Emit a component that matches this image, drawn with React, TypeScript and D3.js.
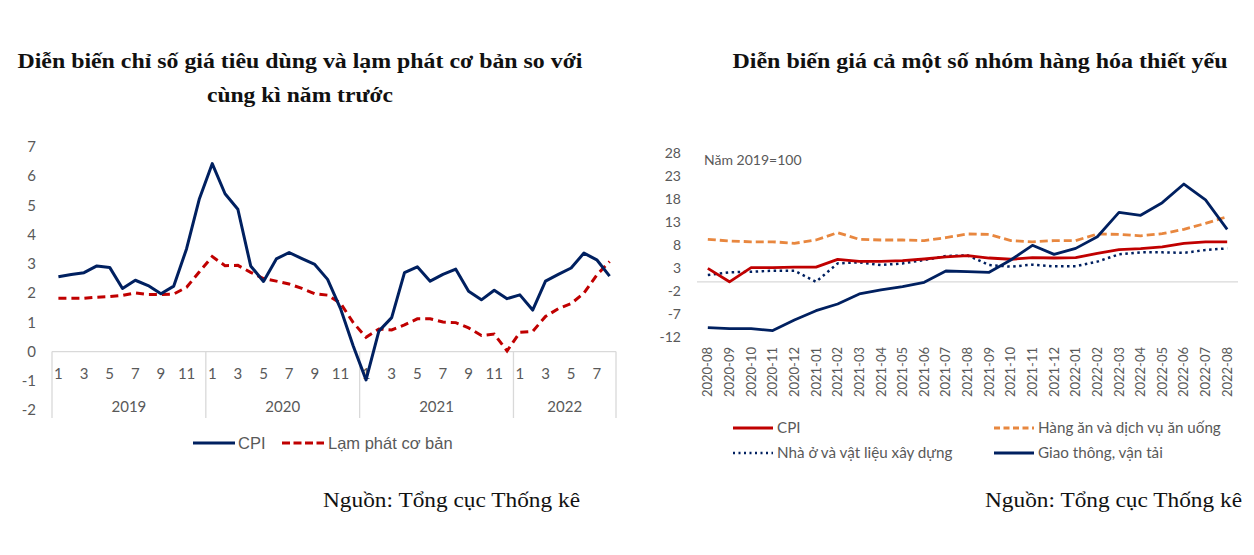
import React from "react";
import * as d3 from "d3";

// ---------- Left chart data ----------
const leftYears = ["2019", "2020", "2021", "2022"];
const leftMonthsPerYear = [12, 12, 12, 8];
const cpiYoY = [
  2.56, 2.64, 2.7, 2.93, 2.88, 2.16, 2.44, 2.26, 1.98, 2.24, 3.52, 5.23,
  6.43, 5.4, 4.87, 2.93, 2.4, 3.17, 3.39, 3.18, 2.98, 2.47, 1.48, 0.19,
  -0.97, 0.7, 1.16, 2.7, 2.9, 2.41, 2.64, 2.82, 2.06, 1.77, 2.1, 1.81,
  1.94, 1.42, 2.41, 2.64, 2.86, 3.37, 3.14, 2.58,
];
const coreInflation = [
  1.82, 1.82, 1.82, 1.86, 1.88, 1.92, 2.01, 1.95, 1.95, 1.97, 2.2, 2.73,
  3.25, 2.94, 2.95, 2.71, 2.5, 2.41, 2.31, 2.16, 1.98, 1.93, 1.66, 0.99,
  0.49, 0.77, 0.74, 0.91, 1.12, 1.12, 1.01, 0.99, 0.81, 0.55, 0.6, 0.02,
  0.66, 0.69, 1.2, 1.47, 1.64, 2.0, 2.62, 3.08,
];
const leftYTicks = [7, 6, 5, 4, 3, 2, 1, 0, -1, -2];

// ---------- Right chart data ----------
const rightMonths = [
  "2020-08", "2020-09", "2020-10", "2020-11", "2020-12",
  "2021-01", "2021-02", "2021-03", "2021-04", "2021-05", "2021-06",
  "2021-07", "2021-08", "2021-09", "2021-10", "2021-11", "2021-12",
  "2022-01", "2022-02", "2022-03", "2022-04", "2022-05", "2022-06",
  "2022-07", "2022-08",
];
const cpiIndex = [2.93, 0.0, 3.07, 3.07, 3.2, 3.2, 4.88, 4.45, 4.45, 4.6, 4.96, 5.4, 5.68, 5.17, 4.9, 5.25, 5.17, 5.25, 6.2, 6.98, 7.2, 7.6, 8.37, 8.7, 8.7];
const foodIndex = [9.23, 8.87, 8.7, 8.7, 8.37, 9.09, 10.68, 9.23, 9.09, 9.09, 8.95, 9.6, 10.4, 10.3, 8.95, 8.7, 8.95, 8.95, 10.4, 10.3, 10.0, 10.45, 11.4, 12.7, 14.16];
const housingIndex = [1.48, 2.06, 2.2, 2.4, 2.4, 0.0, 4.0, 4.24, 3.65, 4.0, 4.74, 5.6, 5.75, 3.65, 3.29, 3.73, 3.36, 3.4, 4.38, 5.97, 6.4, 6.4, 6.3, 6.9, 7.27];
const transportIndex = [-9.97, -10.2, -10.2, -10.6, -8.3, -6.28, -4.83, -2.65, -1.78, -1.06, -0.1, 2.35, 2.2, 2.06, 4.74, 7.93, 5.97, 7.27, 9.8, 15.1, 14.46, 17.2, 21.26, 17.8, 11.4];
const rightYTicks = [28, 23, 18, 13, 8, 3, -2, -7, -12];

const NAVY = "#002060";
const RED = "#C00000";
const ORANGE = "#E8873F";
const GREY_TXT = "#595959";
const AXIS = "#D9D9D9";
const SERIF = "'Liberation Serif', 'DejaVu Serif', serif";
const SANS = "'Liberation Sans', Arial, sans-serif";
const CAL = "Lato, 'Open Sans', sans-serif";

function LeftChart() {
  const monthIdx = d3.range(cpiYoY.length);
  const x = d3.scaleBand<number>().domain(monthIdx).range([52, 616]);
  const y = d3.scaleLinear().domain([-2, 7]).range([410, 147]);
  const cx = (i: number) => (x(i) as number) + x.bandwidth() / 2;
  const line = d3
    .line<number>()
    .x((_, i) => cx(i))
    .y((d) => y(d));

  const monthLabels: { i: number; m: number }[] = [];
  let idx = 0;
  leftMonthsPerYear.forEach((n) => {
    for (let m = 1; m <= n; m++) {
      monthLabels.push({ i: idx, m });
      idx++;
    }
  });
  const bounds: number[] = [0];
  leftMonthsPerYear.reduce((acc, n) => {
    bounds.push(acc + n);
    return acc + n;
  }, 0);
  const bx = (k: number) =>
    k >= cpiYoY.length ? (x(cpiYoY.length - 1) as number) + x.bandwidth() : (x(k) as number);

  return (
    <g>
      <text x={300} y={68} textAnchor="middle" fontFamily={SERIF} fontWeight="bold" fontSize={20} fill="#111" textLength={565} lengthAdjust="spacingAndGlyphs">
        Diễn biến chỉ số giá tiêu dùng và lạm phát cơ bản so với
      </text>
      <text x={300} y={102} textAnchor="middle" fontFamily={SERIF} fontWeight="bold" fontSize={20} fill="#111" textLength={186} lengthAdjust="spacingAndGlyphs">
        cùng kì năm trước
      </text>
      {leftYTicks.map((t) => (
        <text key={t} x={36} y={y(t)} dy="0.35em" textAnchor="end" fontFamily={CAL} fontSize={15} fill={GREY_TXT}>
          {t}
        </text>
      ))}
      <line x1={52} x2={616} y1={y(0)} y2={y(0)} stroke={AXIS} strokeWidth={1.3} />
      {bounds.map((k) => (
        <line key={k} x1={bx(k)} x2={bx(k)} y1={y(0)} y2={418} stroke={AXIS} strokeWidth={1.3} />
      ))}
      {monthLabels
        .filter((d) => d.m % 2 === 1)
        .map((d) => (
          <text key={d.i} x={cx(d.i)} y={374} dy="0.35em" textAnchor="middle" fontFamily={CAL} fontSize={15} fill={GREY_TXT}>
            {d.m}
          </text>
        ))}
      {leftYears.map((yr, k) => (
        <text key={yr} x={(bx(bounds[k]) + bx(bounds[k + 1])) / 2} y={407} dy="0.35em" textAnchor="middle" fontFamily={CAL} fontSize={15} fill={GREY_TXT}>
          {yr}
        </text>
      ))}
      <path d={line(coreInflation) || ""} fill="none" stroke={RED} strokeWidth={3} strokeDasharray="8 5" />
      <path d={line(cpiYoY) || ""} fill="none" stroke={NAVY} strokeWidth={3} strokeLinejoin="round" />
      <line x1={193} x2={235} y1={443} y2={443} stroke={NAVY} strokeWidth={3} />
      <text x={238} y={443} dy="0.35em" fontFamily={SANS} fontSize={16.5} fill={GREY_TXT}>
        CPI
      </text>
      <line x1={282} x2={324} y1={443} y2={443} stroke={RED} strokeWidth={3} strokeDasharray="8 3.5" />
      <text x={328} y={443} dy="0.35em" fontFamily={SANS} fontSize={16.5} fill={GREY_TXT}>
        Lạm phát cơ bản
      </text>
      <text x={323} y={507} fontFamily={SERIF} fontSize={20} fill="#111" textLength={257} lengthAdjust="spacingAndGlyphs">
        Nguồn: Tổng cục Thống kê
      </text>
    </g>
  );
}

function RightChart() {
  const x = d3.scaleBand<string>().domain(rightMonths).range([697, 1238]);
  const y = d3.scaleLinear().domain([-12, 28]).range([337, 153]);
  const cx = (i: number) => (x(rightMonths[i]) as number) + x.bandwidth() / 2;
  const line = d3
    .line<number>()
    .x((_, i) => cx(i))
    .y((d) => y(d));

  const legend = [
    { label: "CPI", color: RED, dash: "", x: 733, y: 428, w: 2.8 },
    { label: "Hàng ăn và dịch vụ ăn uống", color: ORANGE, dash: "6 3.5", x: 994, y: 428, w: 2.8 },
    { label: "Nhà ở và vật liệu xây dựng", color: NAVY, dash: "2 3.5", x: 733, y: 453, w: 2.5 },
    { label: "Giao thông, vận tải", color: NAVY, dash: "", x: 994, y: 453, w: 2.8 },
  ];

  return (
    <g>
      <text x={980} y={68} textAnchor="middle" fontFamily={SERIF} fontWeight="bold" fontSize={20} fill="#111" textLength={495} lengthAdjust="spacingAndGlyphs">
        Diễn biến giá cả một số nhóm hàng hóa thiết yếu
      </text>
      {rightYTicks.map((t) => (
        <text key={t} x={681} y={y(t)} dy="0.35em" textAnchor="end" fontFamily={CAL} fontSize={14} fill={GREY_TXT}>
          {t}
        </text>
      ))}
      <text x={704} y={160} dy="0.35em" fontFamily={CAL} fontSize={14} fill={GREY_TXT}>
        Năm 2019=100
      </text>
      <line x1={697} x2={1238} y1={y(0)} y2={y(0)} stroke={AXIS} strokeWidth={1.3} />
      {rightMonths.map((m, i) => (
        <text key={m} transform={`translate(${cx(i)},347) rotate(-90)`} dy="0.35em" textAnchor="end" fontFamily={CAL} fontSize={13} fill={GREY_TXT}>
          {m}
        </text>
      ))}
      <path d={line(foodIndex) || ""} fill="none" stroke={ORANGE} strokeWidth={2.8} strokeDasharray="8 4" />
      <path d={line(housingIndex) || ""} fill="none" stroke={NAVY} strokeWidth={2.5} strokeDasharray="2.5 3.5" />
      <path d={line(cpiIndex) || ""} fill="none" stroke={RED} strokeWidth={2.8} strokeLinejoin="round" />
      <path d={line(transportIndex) || ""} fill="none" stroke={NAVY} strokeWidth={2.8} strokeLinejoin="round" />
      {legend.map((l) => (
        <g key={l.label}>
          <line x1={l.x} x2={l.x + 40} y1={l.y} y2={l.y} stroke={l.color} strokeWidth={l.w} strokeDasharray={l.dash || undefined} />
          <text x={l.x + 44} y={l.y} dy="0.35em" fontFamily={CAL} fontSize={15.2} fill={GREY_TXT}>
            {l.label}
          </text>
        </g>
      ))}
      <text x={985} y={507} fontFamily={SERIF} fontSize={20} fill="#111" textLength={257} lengthAdjust="spacingAndGlyphs">
        Nguồn: Tổng cục Thống kê
      </text>
    </g>
  );
}

export default function App() {
  return (
    <svg
      width={1254}
      height={555}
      viewBox="0 0 1254 555"
      style={{ position: "absolute", left: 0, top: 0, background: "#fff" }}
    >
      <rect width={1254} height={555} fill="#fff" />
      <LeftChart />
      <RightChart />
    </svg>
  );
}
